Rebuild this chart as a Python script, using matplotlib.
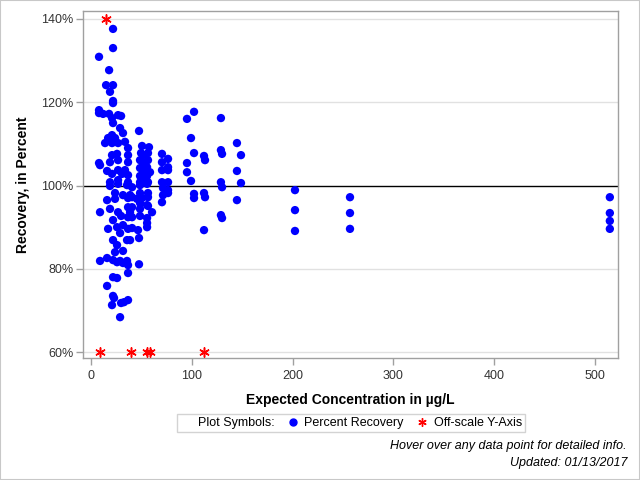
import matplotlib
matplotlib.use("Agg")
import matplotlib.pyplot as plt
from matplotlib.lines import Line2D
from matplotlib.patches import Rectangle
from matplotlib.ticker import FuncFormatter

plt.rcParams["font.family"] = ["Liberation Sans", "DejaVu Sans"]

BLUE = "#0000ff"
RED = "#ff0000"
AXIS_GRAY = "#a0a0a0"
GRID_GRAY = "#e1e1e1"

# Expected concentration (ug/L) and percent recovery
conc = [
    21.8, 21.8, 7.9, 17.9, 14.9, 21.8, 18.8, 21.8, 21.8, 7.9,
    7.9, 11.9, 17.9, 20.8, 26.8, 29.8, 21.8, 28.8, 31.7, 47.6,
    20.8, 16.9, 23.8, 13.9, 20.8, 26.8, 33.7, 36.7, 50.6, 57.5,
    20.8, 25.8, 36.7, 49.6, 56.5, 70.4, 76.4, 8.9, 7.9, 18.8,
    26.8, 36.7, 48.6, 56.5, 51.6, 15.9, 26.8, 33.7, 48.6, 55.6,
    58.5, 51.6, 70.4, 76.4, 70.4, 76.4, 51.6, 20.8, 30.8, 36.7,
    48.6, 55.6, 51.6, 18.8, 26.8, 36.7, 48.6, 56.5, 70.4, 76.4,
    18.8, 26.8, 35.7, 40.7, 48.6, 55.6, 71.4, 76.4, 71.4, 76.4,
    70.4, 23.8, 31.7, 38.7, 48.6, 56.5, 50.6, 56.5, 15.9, 23.8,
    36.7, 45.6, 48.6, 55.6, 8.9, 18.8, 26.8, 36.7, 38.7, 48.6,
    56.5, 60.5, 21.8, 29.8, 36.7, 48.6, 55.6, 55.6, 16.9, 25.8,
    31.7, 36.7, 46.6, 55.6, 28.8, 35.7, 21.8, 47.6, 25.8, 23.8,
    31.7, 8.9, 15.9, 21.8, 28.8, 35.7, 47.6, 25.8, 31.7, 36.7,
    21.8, 25.8, 36.7, 15.9, 21.8, 22.8, 20.8, 29.8, 32.7, 36.7,
    28.8, 40.7, 40.7, 40.7, 40.7, 38.7,
    95.2, 102.2, 128.9, 99.2, 102.2, 95.2, 95.2, 99.2, 102.2, 102.2,
    112.1, 113.1, 112.1, 113.1, 112.1, 128.9, 130.0, 128.9, 130.0, 128.9,
    130.0, 144.8, 148.8, 144.8, 148.8, 144.8,
    202.4, 202.4, 202.4, 257.0, 257.0, 257.0, 514.9, 514.9, 514.9, 514.9,
]
recovery = [
    137.6, 133.0, 130.9, 127.7, 124.1, 124.1, 122.5, 120.3, 119.8, 118.1,
    117.4, 117.2, 117.2, 116.2, 116.9, 116.7, 115.0, 113.8, 112.6, 113.1,
    112.1, 111.4, 111.4, 110.2, 110.2, 110.2, 110.5, 109.0, 109.5, 109.2,
    107.3, 107.6, 107.3, 107.8, 107.8, 107.6, 106.4, 104.9, 105.4, 105.6,
    106.1, 105.6, 106.1, 106.1, 107.3, 103.5, 103.7, 103.7, 104.2, 104.4,
    103.2, 105.6, 105.6, 104.4, 103.7, 103.7, 103.7, 102.8, 102.8, 102.5,
    102.3, 102.3, 101.8, 100.8, 101.3, 100.8, 100.8, 100.8, 100.8, 100.8,
    99.9, 100.4, 100.1, 99.6, 100.1, 100.4, 99.4, 98.9, 97.7, 98.2,
    96.0, 98.2, 97.7, 97.7, 98.2, 98.2, 97.0, 97.2, 96.5, 96.8,
    97.0, 96.8, 95.8, 95.3, 93.6, 94.4, 93.6, 94.8, 93.6, 94.4,
    95.1, 93.6, 91.7, 92.7, 92.4, 92.7, 92.2, 91.0, 89.6, 90.0,
    90.5, 89.6, 89.3, 90.0, 88.6, 86.9, 86.9, 87.4, 85.7, 84.0,
    84.3, 81.9, 82.6, 82.1, 81.9, 81.9, 81.1, 81.6, 81.4, 80.9,
    78.0, 77.8, 79.0, 75.9, 73.5, 73.0, 71.3, 71.8, 72.0, 72.5,
    68.4, 97.2, 94.8, 92.4, 89.8, 86.9,
    116.0, 117.7, 116.2, 111.4, 107.8, 105.4, 103.2, 101.1, 98.0, 97.0,
    107.1, 106.1, 98.2, 97.2, 89.3, 108.5, 107.6, 100.8, 99.6, 92.9,
    92.2, 110.2, 107.3, 103.5, 100.6, 96.5,
    98.9, 94.1, 89.1, 97.2, 93.4, 89.6, 97.2, 93.4, 91.5, 89.6,
]

# Off-scale values, drawn at the axis limit
off_conc = [14.9, 8.9, 39.7, 55.6, 58.5, 112.1]
off_pos = [140, 60, 60, 60, 60, 60]

Y_TICKS = [60, 80, 100, 120, 140]
X_TICKS = [0, 100, 200, 300, 400, 500]

STAR = (6, 2, 0)

fig = plt.figure(figsize=(6.4, 4.8), dpi=100)
ax = fig.add_axes([83 / 640, 1 - 358 / 480, 535 / 640, 347 / 480])

ax.set_xlim(-8, 523)
ax.set_ylim(58.6, 141.9)
ax.set_yticks(Y_TICKS)
ax.set_xticks(X_TICKS)
ax.yaxis.set_major_formatter(FuncFormatter(lambda v, _: f"{v:.0f}%"))

for y in Y_TICKS:
    if y != 100:
        ax.axhline(y, color=GRID_GRAY, lw=1, zorder=0)
ax.axhline(100, color="black", lw=1, zorder=1)

ax.scatter(conc, recovery, s=36, color=BLUE, edgecolors="none", zorder=3)
ax.scatter(off_conc, off_pos, s=45, marker=STAR, color=RED, lw=1.1, zorder=3,
           clip_on=False)

for side in ("top", "right", "bottom", "left"):
    ax.spines[side].set_color(AXIS_GRAY)
    ax.spines[side].set_linewidth(1)
ax.tick_params(axis="both", colors=AXIS_GRAY, labelcolor="#333333",
               labelsize=9, length=5, width=1, direction="out")
ax.tick_params(axis="y", pad=2)

ax.set_xlabel("Expected Concentration in µg/L", fontsize=10, fontweight="bold",
              labelpad=8)
ax.set_ylabel("Recovery, in Percent", fontsize=10, fontweight="bold",
              labelpad=8)

handles = [
    Line2D([], [], linestyle="none", marker=None),
    Line2D([], [], linestyle="none", marker="o", color=BLUE, markersize=5),
    Line2D([], [], linestyle="none", marker=STAR, color=RED, markersize=6,
           markeredgewidth=1),
]
labels = ["Plot Symbols:", "Percent Recovery", "Off-scale Y-Axis"]
leg = fig.legend(handles, labels, ncol=3, loc="center",
                 bbox_to_anchor=(351 / 640, 1 - 423 / 480), fontsize=9,
                 frameon=True, fancybox=False, edgecolor="#c8c8c8",
                 handlelength=1.0, handletextpad=0.4, columnspacing=1.0,
                 borderpad=0.25)
leg.get_frame().set_linewidth(1)

fig.text(627 / 640, 1 - 446 / 480, "Hover over any data point for detailed info.",
         ha="right", va="center", fontsize=9, style="italic")
fig.text(627 / 640, 1 - 463 / 480, "Updated: 01/13/2017",
         ha="right", va="center", fontsize=9, style="italic")

fig.patches.append(Rectangle((0, 0), 1, 1, transform=fig.transFigure,
                             fill=False, edgecolor="#c8c8c8", lw=1.5))

fig.savefig("out.png", dpi=100)
